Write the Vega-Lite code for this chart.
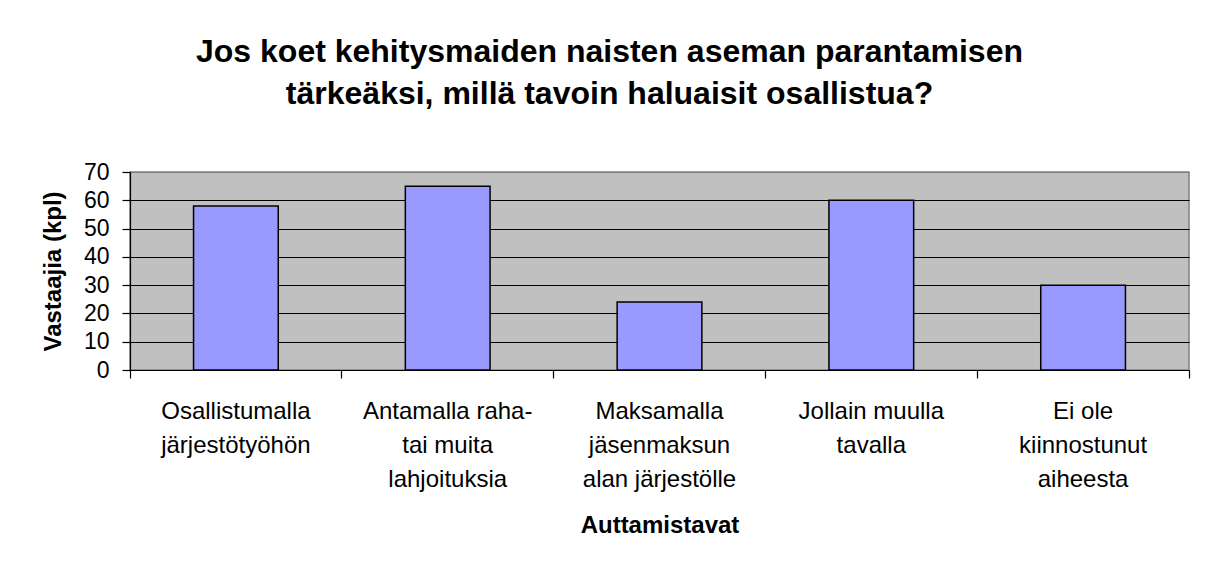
{
  "$schema": "https://vega.github.io/schema/vega-lite/v6.json",
  "width": 1059,
  "height": 198,
  "autosize": {"type": "none"},
  "padding": {"left": 130, "top": 172, "right": 18, "bottom": 193},
  "background": "white",
  "title": {
    "text": ["Jos koet kehitysmaiden naisten aseman parantamisen", "tärkeäksi, millä tavoin haluaisit osallistua?"],
    "font": "Liberation Sans",
    "fontSize": 32,
    "fontWeight": "bold",
    "color": "black",
    "anchor": "middle",
    "frame": "group",
    "dx": -50,
    "offset": 50,
    "lineHeight": 42
  },
  "data": {
    "values": [
      {"tapa": "Osallistumalla järjestötyöhön", "vastaajia": 58},
      {"tapa": "Antamalla raha- tai muita lahjoituksia", "vastaajia": 65},
      {"tapa": "Maksamalla jäsenmaksun alan järjestölle", "vastaajia": 24},
      {"tapa": "Jollain muulla tavalla", "vastaajia": 60},
      {"tapa": "Ei ole kiinnostunut aiheesta", "vastaajia": 30}
    ]
  },
  "mark": {"type": "bar", "width": {"band": 0.4}, "color": "#9999FF", "stroke": "black", "strokeWidth": 1.5},
  "encoding": {
    "x": {
      "field": "tapa",
      "type": "nominal",
      "sort": null,
      "scale": {"paddingInner": 0, "paddingOuter": 0},
      "title": "Auttamistavat",
      "axis": {
        "labelAngle": 0,
        "bandPosition": 1,
        "tickExtra": true,
        "tickSize": 8,
        "labelPadding": 21,
        "labelFontSize": 24,
        "labelLineHeight": 34,
        "labelOverlap": false,
        "labelBound": false,
        "labelFlush": false,
        "titlePadding": 22,
        "grid": false,
        "labelExpr": "datum.value == 'Osallistumalla järjestötyöhön' ? ['Osallistumalla', 'järjestötyöhön'] : datum.value == 'Antamalla raha- tai muita lahjoituksia' ? ['Antamalla raha-', 'tai muita', 'lahjoituksia'] : datum.value == 'Maksamalla jäsenmaksun alan järjestölle' ? ['Maksamalla', 'jäsenmaksun', 'alan järjestölle'] : datum.value == 'Jollain muulla tavalla' ? ['Jollain muulla', 'tavalla'] : datum.value == 'Ei ole kiinnostunut aiheesta' ? ['Ei ole', 'kiinnostunut', 'aiheesta'] : datum.value"
      }
    },
    "y": {
      "field": "vastaajia",
      "type": "quantitative",
      "scale": {"domain": [0, 70], "nice": false},
      "title": "Vastaajia (kpl)",
      "axis": {
        "values": [0, 10, 20, 30, 40, 50, 60, 70],
        "grid": true,
        "gridColor": {"condition": {"test": "datum.value == 70", "value": "#808080"}, "value": "black"},
        "gridWidth": 1.2,
        "gridOpacity": 1,
        "tickSize": 8,
        "labelPadding": 13,
        "labelFontSize": 23,
        "titlePadding": 18
      }
    }
  },
  "config": {
    "view": {"fill": "#C0C0C0", "stroke": "#808080", "strokeWidth": 1.5},
    "axis": {
      "domainColor": "black",
      "domainWidth": 1.2,
      "tickColor": "black",
      "tickWidth": 1.2,
      "labelFont": "Liberation Sans",
      "labelColor": "black",
      "titleFont": "Liberation Sans",
      "titleFontSize": 24,
      "titleFontWeight": "bold",
      "titleColor": "black"
    }
  }
}
